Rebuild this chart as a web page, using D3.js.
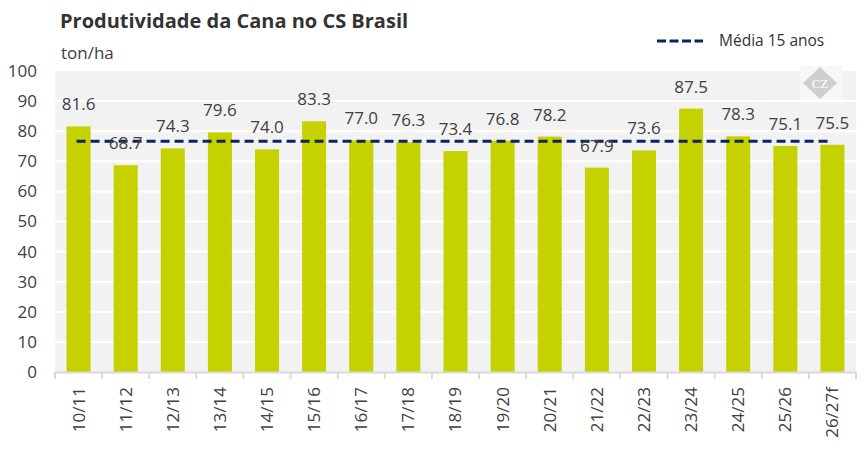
<!DOCTYPE html>
<html>
<head>
<meta charset="utf-8">
<script src="https://cdn.jsdelivr.net/npm/d3@7/dist/d3.min.js"></script>
<style>
  body { margin: 0; background: #fff; }
  text { font-family: "Open Sans", sans-serif; }
</style>
</head>
<body>
<div id="chart"></div>
<script>
// safras e produtividade (ton/ha)
var safras = ["10/11", "11/12", "12/13", "13/14", "14/15", "15/16", "16/17", "17/18", "18/19",
              "19/20", "20/21", "21/22", "22/23", "23/24", "24/25", "25/26", "26/27f"];
var produtividade = [81.6, 68.7, 74.3, 79.6, 74.0, 83.3, 77.0, 76.3, 73.4,
                     76.8, 78.2, 67.9, 73.6, 87.5, 78.3, 75.1, 75.5];
var media15 = [76.7];
var yTicks = [0, 10, 20, 30, 40, 50, 60, 70, 80, 90, 100];

var W = 868, H = 457;
var margin = { top: 71, right: 12, bottom: 85, left: 55 },
    width = W - margin.left - margin.right,
    height = H - margin.top - margin.bottom;

var svg = d3.select("#chart").append("svg")
    .attr("width", W)
    .attr("height", H);

var g = svg.append("g")
    .attr("transform", "translate(" + margin.left + "," + margin.top + ")");

var x = d3.scaleBand().domain(safras).range([0, width]).paddingInner(0.49).paddingOuter(0.245);
var y = d3.scaleLinear().domain([0, 100]).range([height, 0]);

// fundo cinza
g.append("rect")
    .attr("width", width).attr("height", height)
    .attr("fill", "#f2f2f2");

// grade
g.selectAll(".grid").data(yTicks.slice(1, -1)).enter().append("line")
    .attr("x1", 0).attr("x2", width)
    .attr("y1", function (d) { return y(d); }).attr("y2", function (d) { return y(d); })
    .attr("stroke", "#fff").attr("stroke-width", 2);

// logo
var logo = g.append("g").attr("transform", "translate(" + (width - 36) + "," + 0 + ")");
logo.append("rect").attr("x", -20).attr("y", -5).attr("width", 42).attr("height", 34).attr("fill", "#f7f7f7");
logo.append("path").attr("d", "M0,-4 L17,12 L0,28 L-17,12 Z").attr("fill", "#cfcfcf");
logo.append("text").attr("x", 0).attr("y", 17).attr("text-anchor", "middle")
    .attr("fill", "#fff").style("font-size", "13px").style("font-family", "serif").text("CZ");

// barras
g.selectAll(".bar").data(produtividade).enter().append("rect")
    .attr("x", function (d, i) { return x(safras[i]); })
    .attr("y", function (d) { return y(d); })
    .attr("width", x.bandwidth())
    .attr("height", function (d) { return height - y(d); })
    .attr("fill", "#c5d200");

// linha da média
g.append("line")
    .attr("x1", x(safras[0]) + x.bandwidth() / 2 - 2)
    .attr("x2", x(safras[safras.length - 1]) + x.bandwidth() / 2)
    .attr("y1", y(media15[0])).attr("y2", y(media15[0]))
    .attr("stroke", "#0c2461").attr("stroke-width", 3)
    .attr("stroke-dasharray", "9,5");

// rótulos
g.selectAll(".lbl").data(produtividade).enter().append("text")
    .attr("x", function (d, i) { return x(safras[i]) + x.bandwidth() / 2; })
    .attr("y", function (d) { return y(d) - 16; })
    .attr("text-anchor", "middle")
    .attr("fill", "#404040")
    .style("font-size", "17px")
    .text(function (d) { return d.toFixed(1); });

// eixo Y
var yAxis = g.append("g").call(d3.axisLeft(y).tickValues(yTicks).tickSize(0).tickPadding(18));
yAxis.select(".domain").remove();
yAxis.selectAll("text").attr("fill", "#404040").style("font-size", "17px");

// eixo X
var xAxis = g.append("g").attr("transform", "translate(0," + height + ")")
    .call(d3.axisBottom(x).tickSize(0).tickPadding(0));
xAxis.select(".domain").attr("stroke", "#d9d9d9").attr("stroke-width", 2);
xAxis.selectAll("text")
    .attr("fill", "#404040").style("font-size", "17px")
    .attr("text-anchor", "end")
    .attr("dy", "0.35em")
    .attr("transform", "translate(0,15) rotate(-90)");
// marcas entre categorias
var step = x.step();
g.selectAll(".tk").data(d3.range(safras.length + 1)).enter().append("line")
    .attr("x1", function (i) { return i * step; }).attr("x2", function (i) { return i * step; })
    .attr("y1", height).attr("y2", height + 7)
    .attr("stroke", "#d9d9d9").attr("stroke-width", 2);

// título
svg.append("text").attr("x", 60).attr("y", 28)
    .attr("fill", "#333").style("font-size", "20px").style("font-weight", "bold")
    .text("Produtividade da Cana no CS Brasil");
svg.append("text").attr("x", 61).attr("y", 59)
    .attr("fill", "#404040").style("font-size", "17px")
    .text("ton/ha");

// legenda
svg.append("line").attr("x1", 657).attr("x2", 703).attr("y1", 41).attr("y2", 41)
    .attr("stroke", "#0c2461").attr("stroke-width", 3).attr("stroke-dasharray", "9,3.5");
svg.append("text").attr("x", 719).attr("y", 46)
    .attr("fill", "#333").style("font-size", "15.5px")
    .text("Média 15 anos");
</script>
</body>
</html>
